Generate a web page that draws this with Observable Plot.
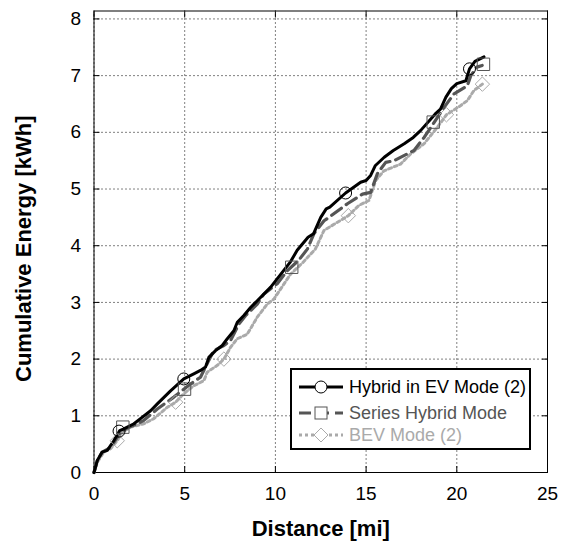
<!DOCTYPE html>
<html><head><meta charset="utf-8">
<script src="https://cdn.jsdelivr.net/npm/d3@7"></script>
<script src="https://cdn.jsdelivr.net/npm/@observablehq/plot@0.6"></script>
<style>
body{margin:0;background:#fff;font-family:"Liberation Sans",Arial,sans-serif}
#wrap{position:relative;width:566px;height:550px}
#legend{position:absolute;left:290px;top:368px;width:241px;height:82px;border:2px solid #000;background:#fff;box-sizing:border-box}
.row{position:absolute;left:0;height:24px;display:flex;align-items:center;font-size:18px;white-space:nowrap}
.row svg{margin-left:6px;margin-right:5px}
</style></head><body><div id="wrap"></div>
<script>
// ---- data ----
const xTicks = [0, 5, 10, 15, 20, 25];
const yTicks = [0, 1, 2, 3, 4, 5, 6, 7, 8];
const seriesNames = ["Hybrid in EV Mode (2)", "Series Hybrid Mode", "BEV Mode (2)"];

const hybridX = [0,0.18,0.45,0.73,1.09,1.42,1.64,2.2,2.56,3.12,3.49,4.22,4.95,5.5,5.87,6.15,6.33,6.7,7.07,7.35,7.71,7.9,8.26,8.63,9.0,9.74,10.3,10.84,11.2,11.8,12.1,12.5,12.8,13.0,13.87,14.7,15.0,15.25,15.5,16.0,16.5,17.1,17.6,18.0,18.8,19.1,19.4,19.7,20.0,20.5,20.7,21.0,21.5];
const hybridY = [0,0.21,0.36,0.39,0.56,0.74,0.77,0.86,0.95,1.09,1.21,1.44,1.65,1.74,1.80,1.86,2.03,2.15,2.24,2.36,2.50,2.65,2.77,2.91,3.03,3.27,3.50,3.72,3.92,4.15,4.21,4.50,4.65,4.68,4.93,5.12,5.15,5.24,5.41,5.56,5.68,5.80,5.91,6.03,6.32,6.41,6.62,6.77,6.86,6.91,7.12,7.25,7.33];

const seriesX = [0,0.18,0.45,0.91,1.46,1.8,2.38,2.75,3.49,4.4,5.32,5.87,6.24,6.6,7.16,7.53,7.99,8.36,9.0,9.37,10.1,10.66,11.3,11.76,12.12,12.68,12.95,13.97,14.8,15.25,15.62,16.08,16.54,17.27,17.64,18.2,18.7,19.3,19.85,20.58,20.77,21.1,21.4];
const seriesY = [0,0.21,0.36,0.44,0.71,0.78,0.86,0.92,1.12,1.33,1.56,1.68,1.92,2.15,2.24,2.33,2.62,2.77,2.97,3.15,3.33,3.56,3.75,3.94,4.21,4.44,4.50,4.74,4.91,4.94,5.27,5.47,5.50,5.62,5.68,5.91,6.15,6.44,6.68,6.82,7.0,7.15,7.18];

const bevX = [0,0.18,0.54,0.91,1.28,1.55,2.01,2.75,3.3,4.04,4.5,4.95,5.5,6.06,6.24,6.8,7.16,7.53,7.9,8.45,9.0,9.55,9.92,10.84,11.5,12.2,12.68,13.4,14.02,14.6,15.16,15.53,15.98,16.9,17.46,18.2,18.93,19.43,20.2,20.58,20.95,21.41];
const bevY = [0,0.18,0.36,0.42,0.56,0.71,0.80,0.86,0.95,1.15,1.24,1.39,1.53,1.62,1.77,1.89,2.00,2.21,2.36,2.44,2.74,2.97,3.06,3.50,3.70,3.94,4.27,4.41,4.53,4.71,4.80,5.15,5.32,5.44,5.62,5.80,6.09,6.31,6.47,6.56,6.74,6.85];

const circleX = [1.38, 4.95, 13.87, 20.7];
const circleY = [0.73, 1.65, 4.93, 7.12];
const squareX = [1.59, 4.99, 10.9, 18.7, 21.47];
const squareY = [0.80, 1.47, 3.62, 6.18, 7.20];
const diamondX = [1.28, 4.5, 7.16, 14.02, 19.43, 21.41];
const diamondY = [0.56, 1.24, 2.00, 4.53, 6.31, 6.85];

// ---- build ----
const rows = (xs, ys) => xs.map((x, i) => ({x, y: ys[i]}));
const colors = ["#000000", "#555555", "#aaaaaa"];
const dashes = [null, "12,6", "3,3"];
const font = "Liberation Sans, Arial, sans-serif";
const noLabel = () => "";

const chart = Plot.plot({
  width: 566, height: 550,
  marginLeft: 93.5, marginRight: 19, marginTop: 10.5, marginBottom: 78,
  style: {fontFamily: font, fontSize: "19px", background: "#fff", color: "#000"},
  x: {domain: [0, 25]},
  y: {domain: [0, 8.14]},
  marks: [
    Plot.gridX(xTicks, {stroke: "#000", strokeOpacity: 1, strokeDasharray: "1,3"}),
    Plot.gridY(yTicks, {stroke: "#000", strokeOpacity: 1, strokeDasharray: "1,3"}),
    Plot.axisX(xTicks, {anchor: "bottom", tickSize: 0, tickPadding: 14, tickFormat: d3.format("d"), label: null, fontSize: 19}),
    Plot.axisY(yTicks, {anchor: "left", tickSize: 0, tickPadding: 13, tickFormat: d3.format("d"), label: null, fontSize: 19}),
    Plot.axisX(xTicks, {anchor: "bottom", tickSize: -6, tickFormat: noLabel, label: null}),
    Plot.axisX(xTicks, {anchor: "top", tickSize: -6, tickFormat: noLabel, label: null}),
    Plot.axisY(yTicks, {anchor: "left", tickSize: -6, tickFormat: noLabel, label: null}),
    Plot.axisY(yTicks, {anchor: "right", tickSize: -6, tickFormat: noLabel, label: null}),
    Plot.frame({stroke: "#000", strokeWidth: 1}),
    Plot.line(rows(bevX, bevY), {x: "x", y: "y", stroke: colors[2], strokeWidth: 3, strokeDasharray: dashes[2]}),
    Plot.line(rows(seriesX, seriesY), {x: "x", y: "y", stroke: colors[1], strokeWidth: 3.2, strokeDasharray: dashes[1]}),
    Plot.line(rows(hybridX, hybridY), {x: "x", y: "y", stroke: colors[0], strokeWidth: 3}),
    Plot.dot(rows(diamondX, diamondY), {x: "x", y: "y", symbol: "diamond2", r: 6.5, stroke: colors[2], fill: "none", strokeWidth: 1}),
    Plot.dot(rows(squareX, squareY), {x: "x", y: "y", symbol: "square", r: 7, stroke: colors[1], fill: "none", strokeWidth: 1}),
    Plot.dot(rows(circleX, circleY), {x: "x", y: "y", symbol: "circle", r: 6, stroke: colors[0], fill: "none", strokeWidth: 1}),
    Plot.text(["Distance [mi]"], {frameAnchor: "bottom", textAnchor: "middle", dy: 56, fontSize: 22, fontWeight: "bold", lineAnchor: "middle", fill: "#000"}),
    Plot.text(["Cumulative Energy [kWh]"], {frameAnchor: "left", textAnchor: "middle", dx: -70, dy: 7, rotate: -90, fontSize: 22, fontWeight: "bold", lineAnchor: "middle", fill: "#000"})
  ]
});

const wrap = document.getElementById("wrap");
wrap.appendChild(chart);

// ---- legend ----
const legend = document.createElement("div");
legend.id = "legend";
const rowTops = [5, 31, 53];
const markerShapes = ["circle", "square", "diamond"];
seriesNames.forEach((name, i) => {
  const row = document.createElement("div");
  row.className = "row";
  row.style.top = rowTops[i] + "px";
  row.style.color = colors[i];
  const ns = "http://www.w3.org/2000/svg";
  const svg = document.createElementNS(ns, "svg");
  svg.setAttribute("width", 46); svg.setAttribute("height", 20);
  const line = document.createElementNS(ns, "line");
  line.setAttribute("x1", 1); line.setAttribute("x2", 45);
  line.setAttribute("y1", 10); line.setAttribute("y2", 10);
  line.setAttribute("stroke", colors[i]); line.setAttribute("stroke-width", 3);
  if (dashes[i]) line.setAttribute("stroke-dasharray", i === 1 ? "12,6" : "3,3");
  svg.appendChild(line);
  let m;
  if (markerShapes[i] === "circle") {
    m = document.createElementNS(ns, "circle");
    m.setAttribute("cx", 23); m.setAttribute("cy", 10); m.setAttribute("r", 6);
  } else if (markerShapes[i] === "square") {
    m = document.createElementNS(ns, "rect");
    m.setAttribute("x", 17); m.setAttribute("y", 4); m.setAttribute("width", 12); m.setAttribute("height", 12);
  } else {
    m = document.createElementNS(ns, "path");
    m.setAttribute("d", "M23,3L30,10L23,17L16,10Z");
  }
  m.setAttribute("fill", "#fff"); m.setAttribute("stroke", colors[i]); m.setAttribute("stroke-width", 1);
  svg.appendChild(m);
  row.appendChild(svg);
  const span = document.createElement("span");
  span.textContent = name;
  row.appendChild(span);
  legend.appendChild(row);
});
wrap.appendChild(legend);
</script>
</body></html>
